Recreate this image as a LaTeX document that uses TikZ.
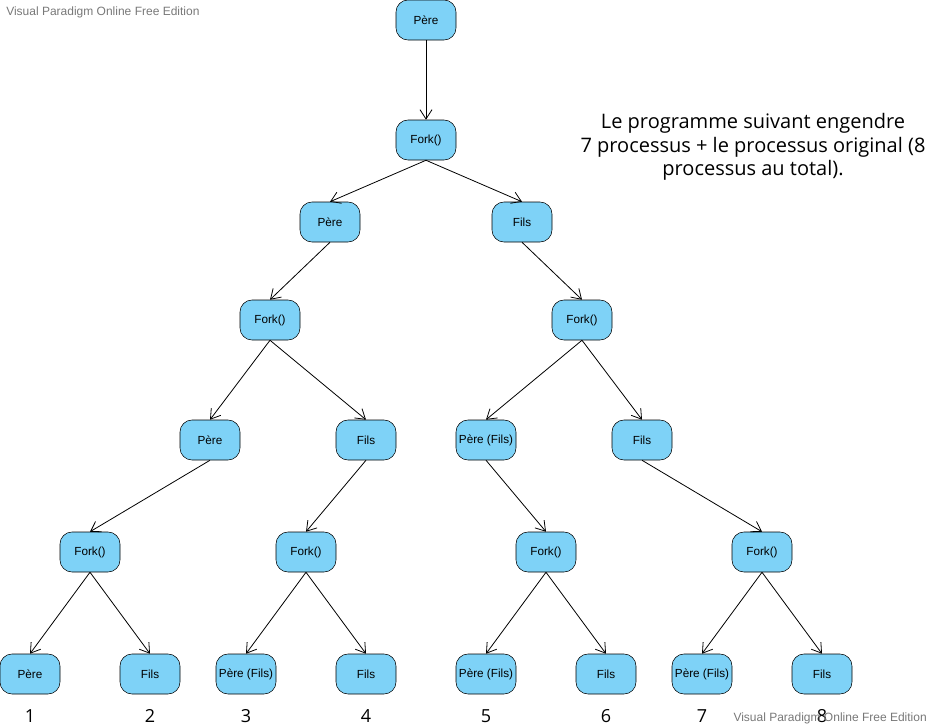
\documentclass[tikz,border=0pt]{standalone}
\usepackage{fontspec}
\setmainfont{Liberation Sans}
\newfontfamily\opensans{Open Sans}
\usetikzlibrary{arrows.meta}
\definecolor{procblue}{RGB}{126,210,247}
\definecolor{markgray}{RGB}{120,120,120}
\tikzset{
  proc/.style={draw=black, fill=procblue, rounded corners=9pt, minimum width=45pt,
    minimum height=30pt, inner sep=0.5pt, font=\fontsize{8.8}{10}\selectfont},
  link/.style={-{Straight Barb[length=7pt,width=9pt]}, semithick},
  num/.style={font=\opensans\fontsize{13.5}{16}\selectfont}
}
\begin{document}
\begin{tikzpicture}[x=0.75pt, y=-0.75pt]
    \useasboundingbox (0,0) rectangle (932,728);
    % racine
    \node[proc] (pere0) at (426,20) {Père};
    \node[proc] (fork0) at (426,140) {Fork()};
    \node[proc] (pereA) at (330,222) {Père};
    \node[proc] (filsA) at (522,222) {Fils};
    \node[proc] (forkA) at (270,320) {Fork()};
    \node[proc] (forkB) at (582,320) {Fork()};
    \node[proc] (pereC) at (210,440) {Père};
    \node[proc] (filsC) at (366,440) {Fils};
    \node[proc] (pereD) at (486,440) {Père (Fils)};
    \node[proc] (filsD) at (642,440) {Fils};
    \node[proc] (forkC) at (90,552) {Fork()};
    \node[proc] (forkD) at (306,552) {Fork()};
    \node[proc] (forkE) at (546,552) {Fork()};
    \node[proc] (forkF) at (762,552) {Fork()};
    % feuilles
    \node[proc] (leaf1) at (30,674) {Père};
    \node[proc] (leaf2) at (150,674) {Fils};
    \node[proc] (leaf3) at (246,674) {Père (Fils)};
    \node[proc] (leaf4) at (366,674) {Fils};
    \node[proc] (leaf5) at (486,674) {Père (Fils)};
    \node[proc] (leaf6) at (606,674) {Fils};
    \node[proc] (leaf7) at (702,674) {Père (Fils)};
    \node[proc] (leaf8) at (822,674) {Fils};
    \foreach \i in {1,...,8}
        \node[num] (num\i) at ([yshift=-31.5pt]leaf\i.center) {\i};
    % connexions
    \draw[link] (pere0.south) -- (fork0.north);
    \draw[link] (fork0.south) -- (pereA.north);
    \draw[link] (fork0.south) -- (filsA.north);
    \draw[link] (pereA.south) -- (forkA.north);
    \draw[link] (filsA.south) -- (forkB.north);
    \draw[link] (forkA.south) -- (pereC.north);
    \draw[link] (forkA.south) -- (filsC.north);
    \draw[link] (forkB.south) -- (pereD.north);
    \draw[link] (forkB.south) -- (filsD.north);
    \draw[link] (pereC.south) -- (forkC.north);
    \draw[link] (filsC.south) -- (forkD.north);
    \draw[link] (pereD.south) -- (forkE.north);
    \draw[link] (filsD.south) -- (forkF.north);
    \draw[link] (forkC.south) -- (leaf1.north);
    \draw[link] (forkC.south) -- (leaf2.north);
    \draw[link] (forkD.south) -- (leaf3.north);
    \draw[link] (forkD.south) -- (leaf4.north);
    \draw[link] (forkE.south) -- (leaf5.north);
    \draw[link] (forkE.south) -- (leaf6.north);
    \draw[link] (forkF.south) -- (leaf7.north);
    \draw[link] (forkF.south) -- (leaf8.north);
    % texte
    \node[align=center, font=\opensans\fontsize{15}{17.6}\selectfont] (note) at (753,147)
        {Le programme suivant engendre\\7 processus + le processus original (8\\processus au total).};
    \node[anchor=west, text=markgray, font=\fontsize{9}{10}\selectfont, inner sep=0pt] (wmA) at (6,12) {Visual Paradigm Online Free Edition};
    \node[anchor=east, text=markgray, font=\fontsize{9}{10}\selectfont, inner sep=0pt] (wmB) at (927,718) {Visual Paradigm Online Free Edition};
\end{tikzpicture}
\end{document}
